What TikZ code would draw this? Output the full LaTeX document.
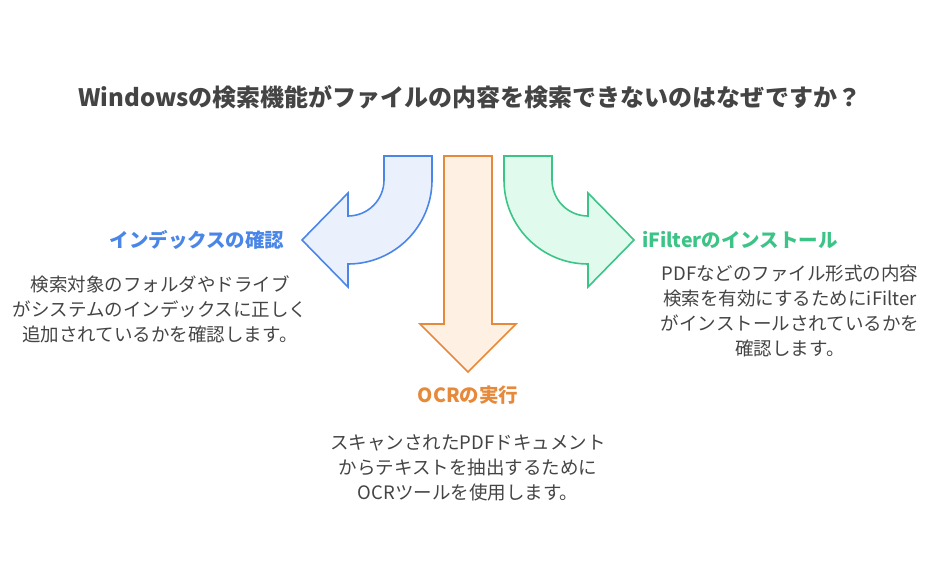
\documentclass[tikz,border=0pt]{standalone}
\usepackage{fontspec}
\setmainfont{Noto Sans CJK JP}
\definecolor{bl}{HTML}{4A86E8}\definecolor{blf}{HTML}{EAF1FD}
\definecolor{or}{HTML}{E6893A}\definecolor{orf}{HTML}{FEF0E3}
\definecolor{gr}{HTML}{3CC486}\definecolor{grf}{HTML}{E0FBEE}
\definecolor{tx}{HTML}{444444}
\begin{document}
\begin{tikzpicture}[x=1pt,y=-1pt,
  arr/.style={line width=1.6pt,line join=miter},
  lbl/.style={font=\bfseries\fontsize{19.5}{23}\selectfont},
  body/.style={text=tx,align=center,font=\fontsize{18.5}{25}\selectfont}]
\useasboundingbox (0,0) rectangle (936,564);
\node[text=tx,font=\bfseries\fontsize{24}{28}\selectfont] (title) at (470,97) {Windowsの検索機能がファイルの内容を検索できないのはなぜですか？};
% blue arrow
\draw[arr,draw=bl,fill=blf] (384,156) -- (432,156) -- (432,180) arc[start angle=0,end angle=90,radius=84] -- (348,287) -- (302,240) -- (348,193) -- (348,216) arc[start angle=90,end angle=0,radius=36] -- cycle;
% orange
\draw[arr,draw=or,fill=orf] (444,156) -- (492,156) -- (492,324) -- (516,324) -- (468,372) -- (420,324) -- (444,324) -- cycle;
% green
\draw[arr,draw=gr,fill=grf] (552,156) -- (504,156) -- (504,180) arc[start angle=180,end angle=90,radius=84] -- (588,287) -- (634,240) -- (588,193) -- (588,216) arc[start angle=90,end angle=180,radius=36] -- cycle;
\node[lbl,text=bl] (l1) at (197,240) {インデックスの確認};
\node[body] (b1) at (160,309) {検索対象のフォルダやドライブ\\がシステムのインデックスに正しく\\追加されているかを確認します。};
\node[lbl,text=or] (l2) at (468,395) {OCRの実行};
\node[body] (b2) at (468,468) {スキャンされたPDFドキュメント\\からテキストを抽出するために\\OCRツールを使用します。};
\node[lbl,text=gr] (l3) at (740,240) {iFilterのインストール};
\node[body] (b3) at (790,310.5) {PDFなどのファイル形式の内容\\検索を有効にするためにiFilter\\がインストールされているかを\\確認します。};
\end{tikzpicture}
\end{document}
